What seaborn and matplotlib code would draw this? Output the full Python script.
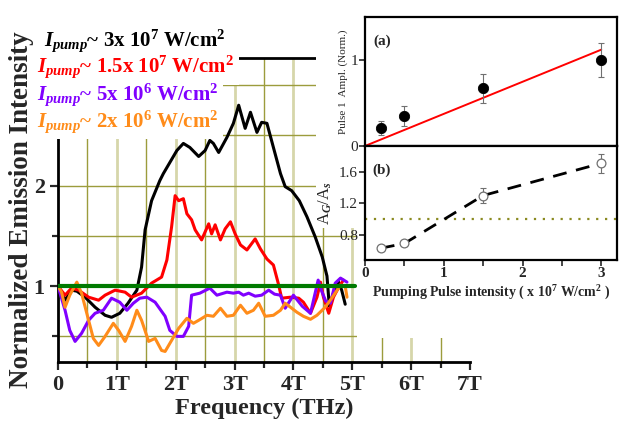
import numpy as np
import matplotlib
matplotlib.use("Agg")
import matplotlib.pyplot as plt
from matplotlib.patches import Rectangle
from matplotlib.ticker import MultipleLocator
import seaborn as sns

# =============================================================================
# Data
# =============================================================================

# main panel: emission spectra for four pump intensities
freq_black = [0, 0.12, 0.23, 0.32, 0.46, 0.63, 0.80, 0.91, 1.05, 1.19, 1.34, 1.42, 1.48,
              1.59, 1.73, 1.79, 2.02, 2.13, 2.24, 2.39, 2.50, 2.58, 2.64, 2.73, 2.87, 2.98,
              3.07, 3.18, 3.27, 3.38, 3.46, 3.55, 3.66, 3.78, 3.86, 3.97, 4.10, 4.23, 4.37,
              4.49, 4.57, 4.61, 4.68, 4.76, 4.82, 4.88]
int_black = [1.0, 0.86, 0.96, 0.95, 0.89, 0.79, 0.71, 0.69, 0.73, 0.83, 0.96, 1.19, 1.56,
             1.85, 2.05, 2.12, 2.35, 2.42, 2.38, 2.29, 2.35, 2.45, 2.42, 2.33, 2.48, 2.62,
             2.80, 2.57, 2.73, 2.53, 2.63, 2.62, 2.38, 2.12, 1.99, 1.95, 1.85, 1.69, 1.49,
             1.29, 1.10, 0.80, 0.93, 1.05, 0.96, 0.82]

freq_red = [0, 0.12, 0.23, 0.35, 0.52, 0.69, 0.80, 0.97, 1.14, 1.25, 1.42, 1.59, 1.76,
            1.85, 1.93, 1.99, 2.05, 2.13, 2.19, 2.27, 2.33, 2.44, 2.56, 2.61, 2.67, 2.76,
            2.84, 2.93, 3.01, 3.10, 3.21, 3.35, 3.44, 3.55, 3.66, 3.75, 3.80, 3.95, 4.09,
            4.17, 4.29, 4.40, 4.46, 4.51, 4.60, 4.68, 4.77, 4.85]
int_red = [1.0, 0.91, 0.98, 0.96, 0.89, 0.86, 0.91, 0.96, 0.94, 0.89, 0.93, 1.03, 1.09,
           1.26, 1.59, 1.90, 1.85, 1.87, 1.72, 1.66, 1.56, 1.46, 1.62, 1.52, 1.61, 1.46,
           1.57, 1.64, 1.52, 1.41, 1.36, 1.47, 1.37, 1.27, 1.21, 1.01, 0.88, 0.89, 0.88,
           0.84, 0.73, 0.89, 1.04, 0.89, 0.73, 0.89, 0.99, 1.06]

freq_purple = [0, 0.12, 0.20, 0.29, 0.40, 0.52, 0.63, 0.77, 0.91, 1.05, 1.17, 1.28, 1.39,
               1.51, 1.65, 1.82, 1.90, 2.02, 2.13, 2.22, 2.27, 2.41, 2.58, 2.70, 2.87, 2.98,
               3.07, 3.15, 3.24, 3.35, 3.46, 3.58, 3.68, 3.78, 3.86, 4.00, 4.15, 4.29, 4.42,
               4.48, 4.55, 4.63, 4.71, 4.80, 4.91]
int_purple = [1.0, 0.76, 0.56, 0.45, 0.53, 0.66, 0.73, 0.76, 0.88, 0.84, 0.76, 0.83, 0.88,
              0.89, 0.84, 0.70, 0.56, 0.50, 0.50, 0.60, 0.91, 0.93, 0.98, 0.91, 0.94, 0.93,
              0.94, 0.91, 0.93, 0.90, 0.91, 0.96, 0.92, 0.91, 0.78, 0.91, 0.80, 0.73, 1.06,
              0.95, 0.85, 0.83, 1.03, 1.08, 1.04]

freq_orange = [0, 0.06, 0.12, 0.20, 0.32, 0.40, 0.52, 0.60, 0.69, 0.80, 0.94, 1.03, 1.14,
               1.25, 1.34, 1.42, 1.54, 1.65, 1.76, 1.82, 1.93, 2.05, 2.19, 2.30, 2.39, 2.53,
               2.64, 2.76, 2.87, 2.98, 3.10, 3.21, 3.32, 3.41, 3.52, 3.66, 3.78, 3.86, 3.95,
               4.06, 4.17, 4.29, 4.40, 4.54, 4.65, 4.80, 4.88, 4.91]
int_orange = [1.0, 0.94, 0.79, 0.91, 1.04, 0.93, 0.66, 0.48, 0.41, 0.50, 0.63, 0.56, 0.45,
              0.60, 0.76, 0.66, 0.45, 0.48, 0.36, 0.35, 0.46, 0.58, 0.68, 0.63, 0.66, 0.71,
              0.70, 0.78, 0.70, 0.71, 0.81, 0.73, 0.76, 0.83, 0.70, 0.71, 0.76, 0.83, 0.79,
              0.74, 0.70, 0.67, 0.71, 0.79, 0.88, 1.01, 1.00, 0.89]

ref_freq = [0, 5.05]
ref_level = [1.0, 1.0]

series_labels = [
    r"$I_{pump}$~ 3x 10$^{7}$ W/cm$^{2}$",
    r"$I_{pump}$~ 1.5x 10$^{7}$ W/cm$^{2}$",
    r"$I_{pump}$~ 5x 10$^{6}$ W/cm$^{2}$",
    r"$I_{pump}$~ 2x 10$^{6}$ W/cm$^{2}$",
]
series_colors = ["black", "#ff0000", "#8000ff", "#ff8c1a"]

freq_ticks = [0, 1, 2, 3, 4, 5, 6, 7]
freq_ticklabels = ["0", "1T", "2T", "3T", "4T", "5T", "6T", "7T"]

# inset (a): pulse 1 amplitude vs pump intensity
pump = [0.2, 0.5, 1.5, 3.0]
pulse_amp = [0.21, 0.35, 0.67, 1.0]
pulse_err = [0.08, 0.12, 0.17, 0.20]
fit_x = [0.0, 3.0]
fit_y = [0.0, 1.12]

# inset (b): A_G / A_s ratio vs pump intensity
ratio = [0.63, 0.69, 1.30, 1.71]
ratio_err = [0.03, 0.03, 0.10, 0.12]

# =============================================================================
# Style
# =============================================================================
sns.set_style("white")
plt.rcParams["font.family"] = ["Liberation Serif", "DejaVu Serif"]
plt.rcParams["mathtext.fontset"] = "custom"
plt.rcParams["mathtext.rm"] = "Liberation Serif:bold"
plt.rcParams["mathtext.bf"] = "Liberation Serif:bold"
plt.rcParams["mathtext.it"] = "Liberation Serif:italic:bold"

OLIVE = "#9c9c3c"
PALE = "#d6d6aa"

fig = plt.figure(figsize=(6.23, 4.24), dpi=100)

# =============================================================================
# Main panel
# =============================================================================
ax = fig.add_axes([0.0931, 0.1462, 0.6613, 0.7170])
ax.set_xlim(0, 7)
ax.set_ylim(0.245, 3.27)

# grid: pale wide lines at whole THz, thin olive ones elsewhere
for xg in np.arange(0.5, 7.0, 0.5):
    if xg % 1 == 0:
        ax.axvline(xg, color=PALE, lw=2.0, zorder=0)
    else:
        ax.axvline(xg, color=OLIVE, lw=1.0, zorder=0)
for yg in [0.5, 1.5, 2.0, 2.5, 3.0]:
    ax.axhline(yg, color=OLIVE, lw=1.0, zorder=0)

curves = [(freq_black, int_black), (freq_red, int_red),
          (freq_purple, int_purple), (freq_orange, int_orange)]
for (fx, fy), col in zip(curves, series_colors):
    sns.lineplot(x=fx, y=fy, color=col, lw=2.2, ax=ax, zorder=3)
sns.lineplot(x=ref_freq, y=ref_level, color="#007a00", lw=3.0, ax=ax, zorder=4)

for side in ["left", "bottom", "top"]:
    ax.spines[side].set_linewidth(2.0)
    ax.spines[side].set_color("black")
ax.spines["right"].set_visible(False)

ax.set_xticks(freq_ticks)
ax.set_xticklabels(freq_ticklabels)
ax.xaxis.set_minor_locator(MultipleLocator(0.5))
ax.set_yticks([1, 2])
ax.yaxis.set_minor_locator(MultipleLocator(0.5))
ax.tick_params(which="both", direction="out", width=1.6, bottom=True, left=True)
ax.tick_params(which="major", length=6, labelsize=16)
ax.tick_params(which="minor", length=4)
for lab in ax.get_xticklabels() + ax.get_yticklabels():
    lab.set_fontweight("bold")

ax.set_xlabel("Frequency (THz)", fontsize=17.5, fontweight="bold", labelpad=2)
ax.set_ylabel("Normalized Emission Intensity", fontsize=19.5, fontweight="bold", labelpad=0)

# coloured labels standing in for a legend: white boxes first, then the text
label_x = [0.070, 0.060, 0.060, 0.060]
label_y = [0.905, 0.842, 0.777, 0.713]
for lab, col, xx, yy in zip(series_labels, series_colors, label_x, label_y):
    fig.text(xx, yy, lab, color="white", fontsize=15, fontweight="bold",
             va="center", ha="left", zorder=5,
             bbox=dict(facecolor="white", edgecolor="none", pad=3))
    fig.text(xx, yy, lab, color=col, fontsize=15, fontweight="bold",
             va="center", ha="left", zorder=6)

# white background of the pasted inset figure
fig.add_artist(Rectangle((0.5072, 0.4623), 0.4928, 0.5377, transform=fig.transFigure,
                         facecolor="white", edgecolor="none", zorder=1))
fig.add_artist(Rectangle((0.5730, 0.2035), 0.4270, 0.2600, transform=fig.transFigure,
                         facecolor="white", edgecolor="none", zorder=1))

# =============================================================================
# Inset (a)
# =============================================================================
axa = fig.add_axes([0.5859, 0.6557, 0.4045, 0.3042], zorder=2)
axa.set_xlim(0, 3.2)
axa.set_ylim(0, 1.5)
sns.lineplot(x=fit_x, y=fit_y, color="#ff0000", lw=1.4, ax=axa)
axa.errorbar(pump, pulse_amp, yerr=pulse_err, fmt="none", ecolor="#707070",
             elinewidth=0.8, capsize=2, capthick=0.8)
sns.scatterplot(x=pump, y=pulse_amp, color="black", s=55, edgecolor="black", ax=axa, zorder=3)
axa.set_xticks([1, 2, 3])
axa.xaxis.set_minor_locator(MultipleLocator(0.5))
axa.set_xticklabels([])
axa.set_yticks([0, 1])
axa.tick_params(which="both", direction="out", width=1.2, length=4, labelsize=11,
                bottom=True, left=True, pad=1)
axa.set_ylabel("Pulse 1  Ampl. (Norm.)", fontsize=8, labelpad=2)
axa.text(0.035, 0.81, "(a)", transform=axa.transAxes, fontsize=11, fontweight="bold",
         va="center")
for sp in axa.spines.values():
    sp.set_linewidth(1.6)
    sp.set_color("black")

# =============================================================================
# Inset (b)
# =============================================================================
axb = fig.add_axes([0.5859, 0.3868, 0.4045, 0.2689], zorder=2)
axb.set_xlim(0, 3.2)
axb.set_ylim(0.48, 1.93)
axb.axhline(1.0, color="#8a8a20", lw=1.6, ls=(0, (1, 3)))
sns.lineplot(x=pump, y=ratio, color="black", lw=2.0, ax=axb, zorder=2)
axb.lines[-1].set_dashes((5, 3.5))
axb.errorbar(pump, ratio, yerr=ratio_err, fmt="none", ecolor="#707070",
             elinewidth=0.8, capsize=2, capthick=0.8)
sns.scatterplot(x=pump, y=ratio, facecolor="white", edgecolor="#707070", s=40,
                linewidth=0.9, ax=axb, zorder=3)
axb.set_xticks([0, 1, 2, 3])
axb.xaxis.set_minor_locator(MultipleLocator(0.5))
axb.set_yticks([0.8, 1.2, 1.6])
axb.set_yticklabels(["0.8", "1.2", "1.6"])
axb.tick_params(which="both", direction="out", width=1.2, length=4, labelsize=11,
                bottom=True, left=True, pad=1)
for lab in axb.get_xticklabels():
    lab.set_fontweight("bold")
axb.set_xlabel(r"Pumping Pulse intensity ( x 10$^{7}$ W/cm$^{2}$ )", fontsize=10,
               fontweight="bold", labelpad=3)
axb.set_ylabel(r"A$_{G}$/A$_{s}$", fontsize=12, labelpad=4, fontweight="normal")
axb.text(0.03, 0.79, "(b)", transform=axb.transAxes, fontsize=11, fontweight="bold",
         va="center")
for sp in axb.spines.values():
    sp.set_linewidth(1.6)
    sp.set_color("black")

fig.savefig("out.png", dpi=100, facecolor="white")
